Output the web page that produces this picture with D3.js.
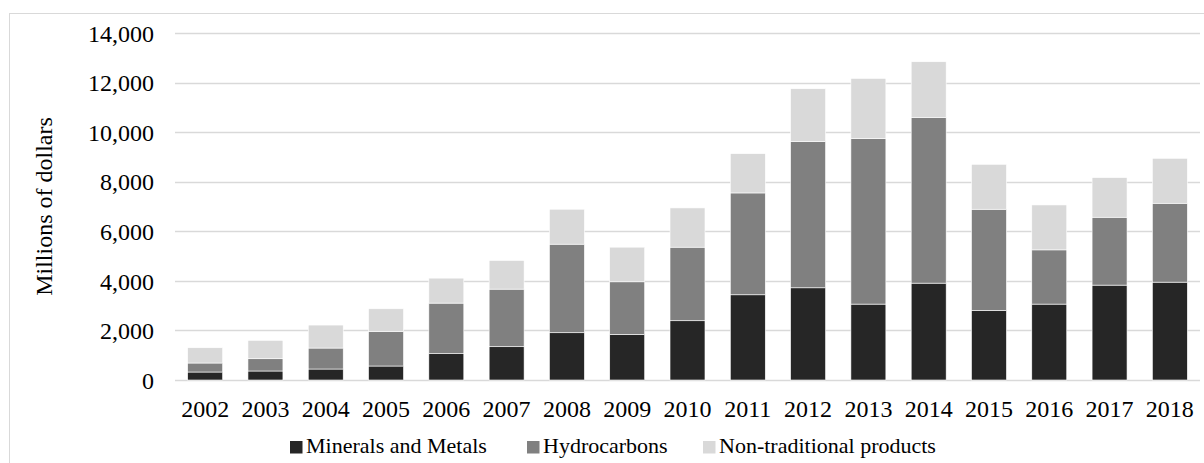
<!DOCTYPE html>
<html>
<head>
<meta charset="utf-8">
<script src="https://cdn.jsdelivr.net/npm/d3@7"></script>
<style>
  html, body { margin: 0; padding: 0; background: #fff; }
  svg { display: block; }
  svg text { font-family: "Liberation Serif", "Times New Roman", serif !important; fill: #000; }
</style>
</head>
<body>
<svg id="chart" width="1204" height="463"></svg>
<script>
// Export values by product group, millions of dollars
const years = ["2002","2003","2004","2005","2006","2007","2008","2009","2010",
               "2011","2012","2013","2014","2015","2016","2017","2018"];
const mineralsMetals = [322, 363, 443, 564, 1061, 1343, 1907, 1840, 2391,
                        3438, 3720, 3062, 3908, 2807, 3062, 3828, 3948];
const hydrocarbons   = [363, 495, 846, 1397, 2041, 2323, 3573, 2122, 2968,
                        4109, 5895, 6675, 6688, 4083, 2188, 2739, 3183];
const nonTraditional = [616, 742, 927, 912, 1008, 1156, 1410, 1397, 1584,
                        1585, 2136, 2431, 2244, 1813, 1813, 1600, 1814];
const seriesNames = ["Minerals and Metals", "Hydrocarbons", "Non-traditional products"];
const seriesColors = ["#262626", "#808080", "#d9d9d9"];
const yTicks = [0, 2000, 4000, 6000, 8000, 10000, 12000, 14000];
const yLabel = "Millions of dollars";

const FONT = "'Liberation Serif', 'Times New Roman', serif";
const svg = d3.select("#chart");

// outer chart frame
svg.append("rect")
  .attr("x", 9.5).attr("y", 13.5)
  .attr("width", 1220).attr("height", 480)
  .attr("fill", "none").attr("stroke", "#d9d9d9").attr("stroke-width", 1);

const plot = { left: 175, right: 1200, top: 33, bottom: 380 };

const x = d3.scaleBand()
  .domain(years)
  .range([plot.left, plot.right])
  .paddingInner(0.42)
  .paddingOuter(0.21);

const y = d3.scaleLinear()
  .domain([0, 14000])
  .range([plot.bottom, plot.top]);

// horizontal gridlines
svg.append("g")
  .selectAll("line")
  .data(yTicks)
  .join("line")
  .attr("x1", plot.left).attr("x2", plot.right)
  .attr("y1", d => Math.round(y(d)) + 0.5)
  .attr("y2", d => Math.round(y(d)) + 0.5)
  .attr("stroke", "#d9d9d9").attr("stroke-width", 1.3);

// y axis tick labels
const yAxis = d3.axisLeft(y)
  .tickValues(yTicks)
  .tickFormat(d3.format(","))
  .tickSize(0)
  .tickPadding(0);
const gy = svg.append("g")
  .attr("transform", `translate(${plot.left - 21},0)`)
  .call(yAxis)
  .attr("font-family", FONT)
  .attr("font-size", 24);
gy.select(".domain").remove();
gy.selectAll("text")
  .attr("fill", "#000")
  .attr("dy", "0.34em");

// x axis category labels
const xAxis = d3.axisBottom(x).tickSize(0).tickPadding(0);
const gx = svg.append("g")
  .attr("transform", `translate(0,${plot.bottom})`)
  .call(xAxis)
  .attr("font-family", FONT)
  .attr("font-size", 24);
gx.select(".domain").remove();
gx.selectAll("text")
  .attr("fill", "#000")
  .attr("dy", null)
  .attr("y", 37);

// stacked bars
const rows = years.map((yr, i) => ({
  year: yr,
  m: mineralsMetals[i],
  h: hydrocarbons[i],
  n: nonTraditional[i]
}));
const stack = d3.stack().keys(["m", "h", "n"]);
const layers = stack(rows);

svg.append("g")
  .selectAll("g")
  .data(layers)
  .join("g")
  .attr("fill", (d, i) => seriesColors[i])
  .selectAll("rect")
  .data(d => d)
  .join("rect")
  .attr("x", d => x(d.data.year))
  .attr("width", x.bandwidth())
  .attr("y", d => y(d[1]))
  .attr("height", d => y(d[0]) - y(d[1]))
  .attr("stroke", "#ffffff")
  .attr("stroke-width", 0.6);

// y axis title
svg.append("text")
  .attr("transform", `translate(52,${(plot.top + plot.bottom) / 2}) rotate(-90)`)
  .attr("text-anchor", "middle")
  .attr("font-family", FONT)
  .attr("font-size", 24)
  .text(yLabel);

// legend
const legendX = [290, 527, 703];
const legend = svg.append("g")
  .attr("font-family", FONT)
  .selectAll("g")
  .data(seriesNames)
  .join("g")
  .attr("transform", (d, i) => `translate(${legendX[i]},0)`);
legend.append("rect")
  .attr("x", 0).attr("y", 441)
  .attr("width", 12.5).attr("height", 12.5)
  .attr("fill", (d, i) => seriesColors[i]);
legend.append("text")
  .attr("x", 16).attr("y", 453)
  .attr("font-size", 22)
  .text(d => d);
</script>
</body>
</html>
